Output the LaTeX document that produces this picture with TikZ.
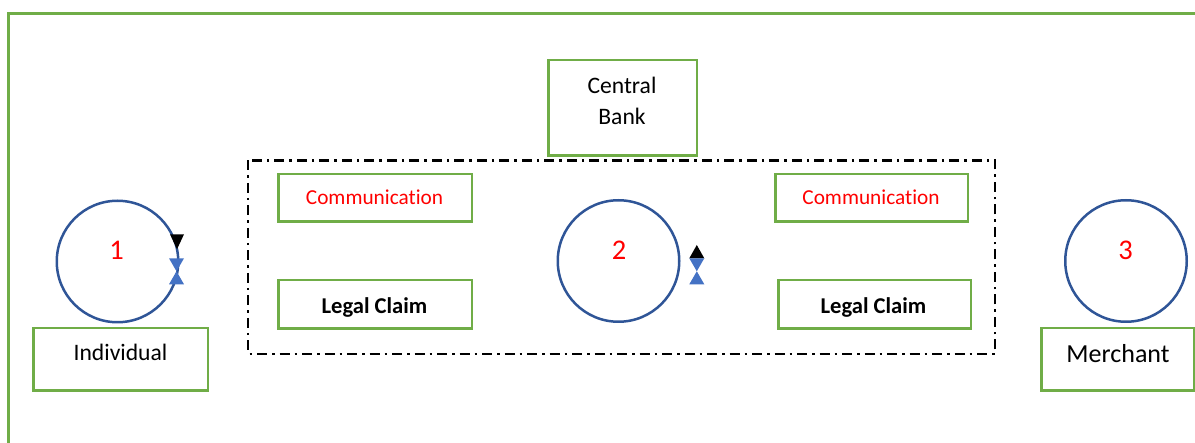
\documentclass[tikz,border=0pt]{standalone}
\usepackage{fontspec}
\setmainfont{Carlito}[Ligatures=NoCommon]
\definecolor{boxgreen}{HTML}{70AD47}
\definecolor{circblue}{HTML}{2F5597}
\definecolor{hgblue}{HTML}{4472C4}
\definecolor{numred}{HTML}{FF0000}
\begin{document}
\begin{tikzpicture}[x=1pt,y=-1pt,
  frameline/.style={draw=boxgreen, line width=3pt},
  gbox/.style={draw=boxgreen, line width=2.5pt, inner sep=0pt, fill=white},
  ring/.style={circle, draw=circblue, line width=2.5pt, minimum size=121.5pt, inner sep=0pt},
  num/.style={anchor=base, text=numred, inner sep=0pt, font=\fontsize{28.5}{34}\selectfont},
  lbl/.style={anchor=base, inner sep=0pt, font=\fontsize{23.6}{30}\selectfont},
  comlbl/.style={anchor=base, inner sep=0pt, text=numred, font=\fontsize{21.3}{26}\selectfont},
  legallbl/.style={anchor=base, inner sep=0pt, font=\fontsize{22.6}{28}\selectfont\bfseries},
  dashdot/.style={draw=black, line width=2.6pt, dash pattern=on 10pt off 5pt on 2.5pt off 5pt},
  blacktip/.style={fill=black, draw=none},
  hourglass/.style={fill=hgblue, draw=none}
]
\useasboundingbox (0,0) rectangle (1195,443);
% outer frame
\coordinate (fbl) at (8.5,443);
\coordinate (ftl) at (8.5,14);
\coordinate (ftr) at (1195,14);
\draw[frameline] (fbl) -- (ftl) -- (ftr);

% dash-dot group box
\coordinate (dtl) at (248,160.5);
\coordinate (dbr) at (995,354);
\draw[dashdot] (dtl) rectangle (dbr);

% central bank
\node[gbox, minimum width=148.5pt, minimum height=95.5pt] (cb) at (622.5,108) {};
\node[lbl, anchor=north, align=center, font=\fontsize{23.6}{31}\selectfont] (cbt) at (622,77.3) {Central\\Bank};

% communication / legal claim boxes
\node[gbox, minimum width=193.5pt, minimum height=47.5pt] (comL) at (375,198) {};
\node[comlbl] (comLt) at (374.5,204.3) {Communication};
\node[gbox, minimum width=193.5pt, minimum height=48.5pt] (legL) at (375,304.5) {};
\node[legallbl] (legLt) at (374.5,313.3) {Legal Claim};
\node[gbox, minimum width=192.5pt, minimum height=47.5pt] (comR) at (871.5,198) {};
\node[comlbl] (comRt) at (871,204.3) {Communication};
\node[gbox, minimum width=192.5pt, minimum height=48.5pt] (legR) at (874.5,304.5) {};
\node[legallbl] (legRt) at (873.5,313.3) {Legal Claim};

% circles
\node[ring] (c1) at (117.5,261.5) {};
\node[num] (n1) at (116.7,259.3) {1};
\node[ring] (c2) at (618.5,261) {};
\node[num] (n2) at (619,259.3) {2};
\node[ring] (c3) at (1126,261) {};
\node[num] (n3) at (1125.7,259.3) {3};

% markers on circle 1
\fill[blacktip] (170,234.3) -- (184,234.3) -- (177,249.3) -- cycle;
\fill[hourglass] (169,258.3) -- (184,258.3) -- (176.5,271.3) -- cycle;
\fill[hourglass] (169,284.3) -- (184,284.3) -- (176.5,271.3) -- cycle;
% markers beside circle 2
\fill[blacktip] (689.3,258.3) -- (704.3,258.3) -- (696.8,245) -- cycle;
\fill[hourglass] (689.3,258.3) -- (704.3,258.3) -- (696.8,271.3) -- cycle;
\fill[hourglass] (689.3,284.3) -- (704.3,284.3) -- (696.8,271.3) -- cycle;

% actors
\node[gbox, minimum width=174.5pt, minimum height=62.5pt] (ind) at (120.5,359.5) {};
\node[lbl] (indt) at (120.5,361) {Individual};
\node[gbox, minimum width=152.5pt, minimum height=62.5pt] (mer) at (1117.5,359.5) {};
\node[lbl, font=\fontsize{26}{31}\selectfont] (mert) at (1118,362.7) {Merchant};
\end{tikzpicture}
\end{document}
